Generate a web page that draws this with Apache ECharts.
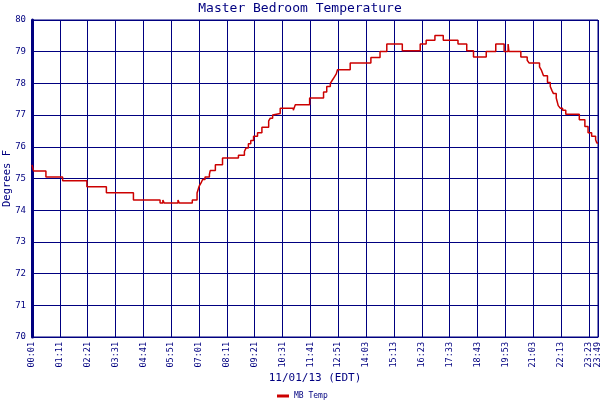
<!DOCTYPE html>
<html>
<head>
<meta charset="utf-8">
<script src="https://cdn.jsdelivr.net/npm/echarts@6/dist/echarts.min.js"></script>
<style>html,body{margin:0;padding:0;background:#fff}#c{width:600px;height:400px}</style>
</head>
<body>
<div id="c"></div>
<script>
// sample index (x) where the temperature changes, and the new value
var sampleIdx = [0,4,35,77,138,187,255,322,329,332,367,370,403,415,420,425,429,435,446,448,461,479,519,534,538,544,550,557,567,578,595,599,605,610,624,657,662,698,733,741,750,755,760,765,768,800,852,875,892,931,976,991,1013,1034,1071,1093,1110,1142,1166,1187,1197,1199,1229,1245,1250,1276,1281,1286,1296,1303,1307,1311,1318,1323,1328,1334,1342,1376,1390,1398,1407,1417,1420,1423];
var temps = [75.43,75.24,75.05,74.93,74.74,74.55,74.32,74.23,74.32,74.23,74.32,74.23,74.32,74.54,74.75,74.86,74.97,75.05,75.13,75.25,75.43,75.65,75.73,75.85,75.96,76.10,76.20,76.33,76.44,76.62,76.82,76.90,77.00,77.05,77.22,77.15,77.33,77.54,77.73,77.90,78.00,78.10,78.20,78.30,78.43,78.64,78.82,79.01,79.24,79.03,79.24,79.36,79.51,79.36,79.24,79.03,78.83,79.01,79.24,79.01,79.24,79.01,78.83,78.73,78.64,78.52,78.41,78.24,78.03,77.90,77.78,77.68,77.54,77.30,77.22,77.15,77.03,76.85,76.64,76.44,76.33,76.22,76.12,76.12];
var xTickLabels = ['00:01','01:11','02:21','03:31','04:41','05:51','07:01','08:11','09:21','10:31','11:41','12:51','14:03','15:13','16:23','17:33','18:43','19:53','21:03','22:13','23:23','23:49'];
var yTicks = [70,71,72,73,74,75,76,77,78,79,80];
var seriesName = 'MB Temp';
var titleText = 'Master Bedroom Temperature';
var xName = '11/01/13 (EDT)';
var yName = 'Degrees F';

var NAVY = '#000080';
var FONT = 'DejaVu Sans Mono';
var lastIdx = sampleIdx[sampleIdx.length - 1];
var data = sampleIdx.map(function (x, i) { return [x, temps[i]]; });

var chart = echarts.init(document.getElementById('c'));
chart.setOption({
  animation: false,
  backgroundColor: '#fff',
  title: {
    text: titleText, left: 'center', top: -3,
    textStyle: {color: NAVY, fontFamily: FONT, fontSize: 13, fontWeight: 'normal'}
  },
  legend: {
    left: 272, top: 387, itemWidth: 12, itemHeight: 3, itemGap: 4, icon: 'rect',
    textStyle: {color: NAVY, fontFamily: FONT, fontSize: 8},
    data: [seriesName]
  },
  grid: {left: 32, right: 2, top: 20, bottom: 63, containLabel: false, outerBoundsMode: 'none',
    show: true, borderColor: NAVY, borderWidth: 1},
  xAxis: {
    type: 'value', min: 0, max: lastIdx, interval: 70,
    name: xName, nameLocation: 'middle', nameGap: 36, nameMoveOverlap: false,
    nameTextStyle: {color: NAVY, fontFamily: FONT, fontSize: 11},
    axisLine: {show: true, lineStyle: {color: NAVY, width: 1}},
    axisTick: {show: false},
    splitLine: {show: true, lineStyle: {color: NAVY, width: 1}},
    axisLabel: {
      rotate: 90, margin: 5, color: NAVY, fontFamily: FONT, fontSize: 8.5,
      showMaxLabel: true, showMinLabel: true, hideOverlap: false,
      formatter: function (v) {
        if (v === lastIdx) return xTickLabels[xTickLabels.length - 1];
        return xTickLabels[Math.round(v / 70)];
      }
    }
  },
  yAxis: {
    type: 'value', min: yTicks[0], max: yTicks[yTicks.length - 1], interval: 1,
    name: yName, nameLocation: 'middle', nameGap: 19, nameRotate: 90, nameMoveOverlap: false,
    nameTextStyle: {color: NAVY, fontFamily: FONT, fontSize: 10.5},
    axisLine: {show: true, lineStyle: {color: NAVY, width: 3}},
    axisTick: {show: false},
    splitLine: {show: true, lineStyle: {color: NAVY, width: 1}},
    axisLabel: {color: NAVY, fontFamily: FONT, fontSize: 9, margin: 6}
  },
  series: [{
    name: seriesName, type: 'line', step: 'end', showSymbol: false,
    color: '#CC0000',
    lineStyle: {color: '#CC0000', width: 1.5},
    data: data
  }]
});
</script>
</body>
</html>
